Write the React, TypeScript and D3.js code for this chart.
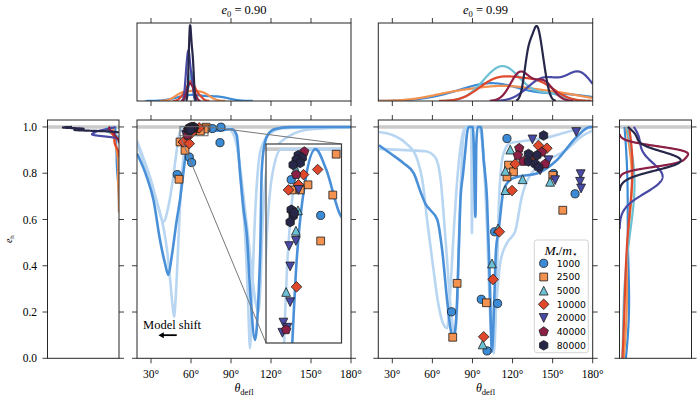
import React from 'react';
import * as d3 from 'd3';

type Pt = [number, number];

// ---------------- categories / labels ----------------
const massRatios = ['1000', '2500', '5000', '10000', '20000', '40000', '80000'];
const seriesColors = ['#3b8bd6', '#f39150', '#6cc0d3', '#e0482b', '#4949a6', '#8c1f46', '#27274a'];
const seriesMarkers = ['circle', 'square', 'triangleUp', 'diamond', 'triangleDown', 'pentagon', 'hexagon'];
const thetaTicks = [30, 60, 90, 120, 150, 180];
const thetaTickLabels = ['30°', '60°', '90°', '120°', '150°', '180°'];
const eTicks = [0, 0.2, 0.4, 0.6, 0.8, 1.0];
const eTickLabels = ['0.0', '0.2', '0.4', '0.6', '0.8', '1.0'];
const panelE0 = ['0.90', '0.99'];

// ---------------- scatter data, e0 = 0.90  [theta_defl (deg), e_h] ----------------
const e090_1000: Pt[] = [[66.96, 0.987], [58.75, 0.994], [76.0, 0.993], [82.5, 0.999], [81.75, 0.932], [58.7, 0.870], [60.5, 0.846], [49.7, 0.794]];
const e090_2500: Pt[] = [[71.27, 0.999], [70.32, 0.991], [66.96, 0.982], [63.43, 0.993], [61.27, 0.992], [58.95, 0.992], [51.0, 0.774], [55.5, 0.899], [51.75, 0.935]];
const e090_5000: Pt[] = [[60.07, 0.996], [60.63, 0.988], [60.07, 0.984], [57.35, 0.972]];
const e090_10000: Pt[] = [[66.12, 0.996], [62.2, 0.995], [58.0, 0.992], [60.8, 0.993], [60.23, 0.973], [54.2, 0.935], [58.7, 0.928]];
const e090_20000: Pt[] = [[60.8, 0.992], [58.19, 0.981], [60.07, 0.982], [58.47, 0.977], [58.47, 0.970], [56.6, 0.966], [56.31, 0.964], [57.71, 0.965]];
const e090_40000: Pt[] = [[62.39, 0.9995], [60.15, 0.995], [57.35, 0.9646], [59.03, 0.988]];
const e090_80000: Pt[] = [[60.71, 0.9988], [61.83, 0.9983], [60.15, 0.9979], [61.27, 0.9973], [59.3, 0.9969], [58.75, 0.9881], [59.3, 0.9869], [58.47, 0.9857], [59.6, 0.9875]];

// ---------------- scatter data, e0 = 0.99 ----------------
const e099_1000: Pt[] = [[115.8, 0.950], [150.6, 0.799], [166.8, 0.711], [106.6, 0.547], [74.3, 0.201], [96.6, 0.255], [108.8, 0.237], [100.9, 0.032]];
const e099_2500: Pt[] = [[117.0, 0.835], [120.7, 0.806], [115.8, 0.784], [157.6, 0.640], [150.1, 0.791], [78.5, 0.324], [75.2, 0.091], [100.4, 0.240]];
const e099_5000: Pt[] = [[118.3, 0.902], [114.6, 0.810], [127.5, 0.774], [114.6, 0.727], [148.1, 0.763], [109.1, 0.561], [104.6, 0.410], [97.6, 0.060]];
const e099_10000: Pt[] = [[139.4, 0.920], [145.7, 0.908], [122.0, 0.840], [134.5, 0.862], [119.6, 0.725], [110.1, 0.547], [105.4, 0.341], [98.4, 0.093]];
const e099_20000: Pt[] = [[134.9, 0.946], [167.7, 0.978], [171.0, 0.796], [170.5, 0.763], [171.3, 0.734], [146.9, 0.856], [151.9, 0.770], [140.7, 0.813]];
const e099_40000: Pt[] = [[125.0, 0.908], [124.0, 0.877], [128.2, 0.851], [141.9, 0.891], [144.4, 0.840]];
const e099_80000: Pt[] = [[143.2, 0.963], [131.9, 0.851], [136.9, 0.840], [139.4, 0.826], [138.2, 0.877], [131.9, 0.883]];

const e090Points = [e090_1000, e090_2500, e090_5000, e090_10000, e090_20000, e090_40000, e090_80000];
const e099Points = [e099_1000, e099_2500, e099_5000, e099_10000, e099_20000, e099_40000, e099_80000];

// ---------------- model curves (theta, e_h) ----------------
const e090Medium: Pt[] = [[19.5, 0.885], [26.8, 0.784], [31.9, 0.683], [36.75, 0.511], [40.5, 0.41], [43, 0.36], [45.5, 0.439], [49.3, 0.597], [51.75, 0.684], [55.5, 0.857], [57.5, 0.93], [60, 0.975], [62.5, 0.993], [65.5, 1.0], [68.5, 0.996], [72.5, 0.987], [78, 0.984], [86, 0.988], [91, 0.99], [94.3, 0.964], [96.75, 0.805], [99.5, 0.64], [101.8, 0.54], [104.8, 0.252], [108, 0.079], [110.5, 0.252], [112.1, 0.511], [113, 0.805], [115, 0.92], [118, 0.97], [123, 0.991], [134, 0.999], [180, 1.0]];
const e090Light1: Pt[] = [[19.5, 0.94], [24, 0.87], [29.25, 0.784], [35.5, 0.655], [39.2, 0.59], [43, 0.655], [46.7, 0.784], [49.3, 0.899], [51.2, 0.97], [53.5, 0.995], [56, 1.0], [88, 1.0], [93, 0.97], [96, 0.85], [98.5, 0.68], [100.5, 0.541], [102.75, 0.252], [104.25, 0.043], [105.75, 0.252], [107.25, 0.511], [109, 0.72], [111, 0.86], [114, 0.93], [120, 0.975], [130, 0.995], [180, 1.0]];
const e090Light2: Pt[] = [[19.5, 0.93], [25, 0.84], [30, 0.76], [35, 0.66], [39.2, 0.57], [42, 0.47], [44.5, 0.33], [46.3, 0.22], [47.3, 0.18], [48.5, 0.26], [50.5, 0.5], [52.5, 0.74], [54.5, 0.88], [56.3, 0.95], [57.5, 0.975], [59, 0.99], [61, 0.997], [64, 1.0], [85, 1.0], [90, 0.985], [95, 0.9], [99, 0.72], [103, 0.52], [106, 0.35], [108.5, 0.24], [110.5, 0.2], [112, 0.3], [113.5, 0.55], [115.5, 0.75], [118, 0.85], [125, 0.92], [135, 0.965], [150, 0.99], [180, 0.998]];

const e099Medium: Pt[] = [[20, 0.921], [28.7, 0.885], [38.7, 0.842], [46.1, 0.799], [51.1, 0.72], [55, 0.665], [58.6, 0.64], [63.6, 0.6], [67.3, 0.468], [71, 0.252], [73.5, 0.13], [75.5, 0.086], [77.2, 0.13], [78.5, 0.252], [79.7, 0.468], [81, 0.684], [83, 0.8], [84.7, 0.9], [86, 0.975], [87.2, 1.0], [90.2, 1.0], [90.9, 0.93], [92.2, 0.611], [92.9, 0.93], [93.9, 1.0], [96.4, 1.0], [98.4, 0.856], [100.9, 0.684], [102.6, 0.396], [104.6, 0.029], [106.3, 0.252], [107.6, 0.468], [109.6, 0.554], [113.3, 0.727], [118, 0.77], [123.3, 0.784], [138.2, 0.799], [153.1, 0.856], [168, 0.957], [178, 1.0], [180, 1.0]];
const e099Light1: Pt[] = [[20, 0.978], [30, 0.965], [40, 0.93], [48, 0.87], [53, 0.75], [56, 0.6], [60, 0.42], [64, 0.25], [68, 0.15], [71, 0.13], [73.5, 0.3], [76, 0.55], [79, 0.8], [82, 0.95], [85, 1.0], [89, 1.0], [89.6, 0.54], [90.3, 1.0], [95, 1.0], [98, 0.9], [101, 0.6], [104, 0.2], [106, 0.02], [108, 0.3], [110, 0.7], [113, 0.88], [118, 0.93], [130, 0.94], [150, 0.96], [165, 0.985], [180, 1.0]];
const e099Light2: Pt[] = [[20, 0.905], [40, 0.9], [55, 0.895], [62, 0.87], [66, 0.78], [70, 0.5], [74, 0.2], [77, 0.1], [79, 0.3], [81, 0.7], [83, 0.95], [85, 1.0], [95, 1.0], [98.5, 0.85], [101, 0.55], [103.5, 0.15], [105.5, 0.05], [108, 0.25], [111, 0.42], [116, 0.5], [122, 0.55], [127, 0.7], [132, 0.78], [145, 0.85], [160, 0.9], [172, 0.96], [180, 0.985]];

const e090Curves = [e090Light1, e090Light2, e090Medium];
const e099Curves = [e099Light1, e099Light2, e099Medium];
const curveKinds = ['light', 'light', 'medium'];

// inset zoom window (theta range, e range)
const insetTheta: Pt = [51.75, 72.75];
const insetE: Pt = [0.962, 1.001];
// annotation
const modelShiftText = { theta: 45.8, e: 0.127 };
const modelShiftArrow = { from: 49.3, to: 35.5, e: 0.1 };

// ---------------- styles ----------------
const SERIF = "'Liberation Serif', 'DejaVu Serif', serif";
const SANS = "'DejaVu Sans', sans-serif";
const SPINE = '#262626';
const MEDIUM_BLUE = '#4a90d8';
const LIGHT_BLUE = '#b8d6f1';
const GRAY_REF = '#cbcbcb';

// ---------------- helpers ----------------
function gaussKde(values: number[], lo: number, hi: number, weight: number): Pt[] {
  const n = values.length;
  const sd = d3.deviation(values) ?? 0.01;
  const bw = Math.max(sd * Math.pow(n, -0.2), 1e-6);
  const a = Math.max(lo, (d3.min(values) as number) - 3 * bw);
  const b = Math.min(hi, (d3.max(values) as number) + 3 * bw);
  const m = 400;
  const out: Pt[] = [];
  for (let i = 0; i <= m; i++) {
    const x = a + ((b - a) * i) / m;
    let s = 0;
    for (const v of values) {
      const z = (x - v) / bw;
      s += Math.exp(-0.5 * z * z);
    }
    out.push([x, (weight * s) / (n * bw * Math.sqrt(2 * Math.PI))]);
  }
  return out;
}

function polygonPath(k: number, r: number, rot: number): string {
  const pts = d3.range(k).map((i) => {
    const a = rot + (2 * Math.PI * i) / k;
    return [r * Math.cos(a), r * Math.sin(a)];
  });
  return 'M' + pts.map((p) => p[0].toFixed(2) + ',' + p[1].toFixed(2)).join('L') + 'Z';
}

function markerPath(kind: string): string {
  const t = 4.4;
  switch (kind) {
    case 'circle':
      return d3.symbol(d3.symbolCircle, Math.PI * 4.1 * 4.1)() as string;
    case 'square':
      return `M-3.9,-3.9H3.9V3.9H-3.9Z`;
    case 'diamond':
      return `M0,-5.3L5.3,0L0,5.3L-5.3,0Z`;
    case 'triangleUp':
      return `M0,${-t}L${t},${t}L${-t},${t}Z`;
    case 'triangleDown':
      return `M0,${t}L${t},${-t}L${-t},${-t}Z`;
    case 'pentagon':
      return polygonPath(5, 4.9, -Math.PI / 2);
    default:
      return polygonPath(6, 4.8, -Math.PI / 2);
  }
}

export default function App() {
  // geometry
  const topY: Pt = [101, 23];
  const mainY: Pt = [358.3, 120];
  const leftX: Pt = [137, 351];
  const rightX: Pt = [378.3, 592.7];
  const lmX: Pt = [47.5, 119];
  const rmX: Pt = [619.5, 691.5];
  const inset = { x0: 266, x1: 341.5, y0: 144, y1: 343 };

  const xL = d3.scaleLinear().domain([19.5, 180]).range(leftX);
  const xR = d3.scaleLinear().domain([19.5, 180]).range(rightX);
  const yE = d3.scaleLinear().domain([0, 1.03]).range(mainY);
  const xI = d3.scaleLinear().domain(insetTheta).range([inset.x0, inset.x1]);
  const yI = d3.scaleLinear().domain(insetE).range([inset.y1, inset.y0]);

  // KDEs
  const N090 = d3.sum(e090Points, (s) => s.length);
  const N099 = d3.sum(e099Points, (s) => s.length);
  const topL = e090Points.map((s) => gaussKde(s.map((p) => p[0]), 19.5, 180, s.length / N090));
  const topR = e099Points.map((s) => gaussKde(s.map((p) => p[0]), 19.5, 180, s.length / N099));
  const sideL = e090Points.map((s) => gaussKde(s.map((p) => p[1]), 0, 1.0, s.length / N090));
  const sideR = e099Points.map((s) => gaussKde(s.map((p) => p[1]), 0, 1.0, s.length / N099));

  const maxTopL = d3.max(topL.flat(), (d) => d[1]) as number;
  const maxTopR = d3.max(topR.flat(), (d) => d[1]) as number;
  const maxSideR = d3.max(sideR.flat(), (d) => d[1]) as number;

  const yTL = d3.scaleLinear().domain([0, maxTopL * 1.03]).range(topY);
  const yTR = d3.scaleLinear().domain([0, maxTopR * 1.04]).range(topY);
  const xSR = d3.scaleLinear().domain([0, maxSideR * 1.05]).range(rmX);
  const xSL = d3.scaleLinear().domain([0, 14]).range([lmX[1], lmX[0]]);

  const curveLine = (xs: d3.ScaleLinear<number, number>, ys: d3.ScaleLinear<number, number>) =>
    d3.line<Pt>().x((d) => xs(d[0])).y((d) => ys(d[1])).curve(d3.curveMonotoneX);
  const sideLine = (xs: d3.ScaleLinear<number, number>) =>
    d3.line<Pt>().x((d) => xs(d[1])).y((d) => yE(d[0])).curve(d3.curveLinear);

  const frame = (x: Pt, y: Pt) => (
    <rect x={x[0]} y={y[1]} width={x[1] - x[0]} height={y[0] - y[1]} fill="none" stroke={SPINE} strokeWidth={1} />
  );

  const xTicks = (xs: d3.ScaleLinear<number, number>, yEdge: number, dir: number, key: string) =>
    thetaTicks.map((t) => (
      <line key={key + t} x1={xs(t)} x2={xs(t)} y1={yEdge} y2={yEdge + dir * 5} stroke={SPINE} strokeWidth={0.9} />
    ));
  const yTicks = (xEdge: number, dir: number, key: string) =>
    eTicks.map((t) => (
      <line key={key + t} x1={xEdge} x2={xEdge + dir * 5} y1={yE(t)} y2={yE(t)} stroke={SPINE} strokeWidth={0.9} />
    ));

  const drawCurves = (curves: Pt[][], xs: d3.ScaleLinear<number, number>, ys: d3.ScaleLinear<number, number>) =>
    curves.map((c, i) => (
      <path
        key={'c' + i}
        d={curveLine(xs, ys)(c) as string}
        fill="none"
        stroke={curveKinds[i] === 'light' ? LIGHT_BLUE : MEDIUM_BLUE}
        strokeWidth={2.6}
        strokeLinejoin="round"
      />
    ));

  const drawPoints = (sets: Pt[][], xs: d3.ScaleLinear<number, number>, ys: d3.ScaleLinear<number, number>, k: string) =>
    sets.map((s, i) =>
      s.map((p, j) => (
        <path
          key={k + i + '_' + j}
          d={markerPath(seriesMarkers[i])}
          transform={`translate(${xs(p[0]).toFixed(2)},${ys(p[1]).toFixed(2)})`}
          fill={seriesColors[i]}
          stroke="#1c1c1c"
          strokeWidth={0.8}
        />
      ))
    );

  const kdeTop = (kdes: Pt[][], xs: d3.ScaleLinear<number, number>, ys: d3.ScaleLinear<number, number>, k: string) =>
    kdes.map((c, i) => (
      <path key={k + i} d={d3.line<Pt>().x((d) => xs(d[0])).y((d) => ys(d[1]))(c) as string} fill="none" stroke={seriesColors[i]} strokeWidth={2.2} strokeLinejoin="round" />
    ));
  const kdeSide = (kdes: Pt[][], xs: d3.ScaleLinear<number, number>, k: string) =>
    kdes.map((c, i) => (
      <path key={k + i} d={sideLine(xs)(c) as string} fill="none" stroke={seriesColors[i]} strokeWidth={2.2} strokeLinejoin="round" />
    ));

  const refLine = (x: Pt, k: string) => (
    <line key={k} x1={x[0]} x2={x[1]} y1={yE(1)} y2={yE(1)} stroke={GRAY_REF} strokeWidth={3.6} />
  );

  const thetaLabel = (cx: number) => (
    <text x={cx} y={392} textAnchor="middle" fontFamily={SERIF} fontSize={12}>
      <tspan fontStyle="italic">θ</tspan>
      <tspan fontSize={8.5} dy={2.5}>defl</tspan>
    </text>
  );
  const title = (cx: number, v: string) => (
    <text x={cx} y={14} textAnchor="middle" fontFamily={SERIF} fontSize={12.5}>
      <tspan fontStyle="italic">e</tspan>
      <tspan fontSize={8.5} dy={2.5}>0</tspan>
      <tspan dy={-2.5}>{' = ' + v}</tspan>
    </text>
  );

  const rectX0 = xL(insetTheta[0]);
  const rectX1 = xL(insetTheta[1]);
  const rectY0 = yE(insetE[1]);
  const rectY1 = yE(insetE[0]);

  const legX = 534.3, legY = 240, legW = 54, legH = 112.7;

  return (
    <div style={{ position: 'absolute', left: 0, top: 0 }}>
      <svg width={700} height={400} style={{ display: 'block', background: '#fff' }}>
        <defs>
          <clipPath id="cTL"><rect x={leftX[0]} y={topY[1]} width={leftX[1] - leftX[0]} height={topY[0] - topY[1]} /></clipPath>
          <clipPath id="cTR"><rect x={rightX[0]} y={topY[1]} width={rightX[1] - rightX[0]} height={topY[0] - topY[1]} /></clipPath>
          <clipPath id="cML"><rect x={leftX[0]} y={mainY[1]} width={leftX[1] - leftX[0]} height={mainY[0] - mainY[1]} /></clipPath>
          <clipPath id="cMR"><rect x={rightX[0]} y={mainY[1]} width={rightX[1] - rightX[0]} height={mainY[0] - mainY[1]} /></clipPath>
          <clipPath id="cLM"><rect x={lmX[0]} y={mainY[1]} width={lmX[1] - lmX[0]} height={mainY[0] - mainY[1]} /></clipPath>
          <clipPath id="cRM"><rect x={rmX[0]} y={mainY[1]} width={rmX[1] - rmX[0]} height={mainY[0] - mainY[1]} /></clipPath>
          <clipPath id="cIN"><rect x={inset.x0} y={inset.y0} width={inset.x1 - inset.x0} height={inset.y1 - inset.y0} /></clipPath>
        </defs>

        {/* titles */}
        {title((leftX[0] + leftX[1]) / 2, panelE0[0])}
        {title((rightX[0] + rightX[1]) / 2, panelE0[1])}

        {/* top KDE panels */}
        <g clipPath="url(#cTL)">{kdeTop(topL, xL, yTL, 'tl')}</g>
        <g clipPath="url(#cTR)">{kdeTop(topR, xR, yTR, 'tr')}</g>
        {frame(leftX, topY)}
        {frame(rightX, topY)}
        {xTicks(xL, topY[1], -1, 'tlt')}
        {xTicks(xL, topY[0], 1, 'tlb')}
        {xTicks(xR, topY[1], -1, 'trt')}
        {xTicks(xR, topY[0], 1, 'trb')}

        {/* left marginal */}
        <g clipPath="url(#cLM)">
          {refLine(lmX, 'rl')}
          {kdeSide(sideL, xSL, 'sl')}
        </g>
        {frame(lmX, mainY)}
        {yTicks(lmX[0], -1, 'lml')}
        {yTicks(lmX[1], 1, 'lmr')}
        {eTicks.map((t, i) => (
          <text key={'el' + t} x={37} y={yE(t)} dy="0.35em" textAnchor="end" fontFamily={SERIF} fontSize={11.5}>
            {eTickLabels[i]}
          </text>
        ))}
        <text transform={`translate(12,${(mainY[0] + mainY[1]) / 2}) rotate(-90)`} textAnchor="middle" fontFamily={SERIF} fontSize={10}>
          <tspan fontStyle="italic">e</tspan>
          <tspan fontSize={7} dy={2}>h</tspan>
        </text>

        {/* main left */}
        <g clipPath="url(#cML)">
          {refLine(leftX, 'rml')}
          {drawCurves(e090Curves, xL, yE)}
          {drawPoints(e090Points, xL, yE, 'pl')}
        </g>
        {frame(leftX, mainY)}
        {xTicks(xL, mainY[1], -1, 'mlt')}
        {xTicks(xL, mainY[0], 1, 'mlb')}
        {yTicks(leftX[0], -1, 'mll')}
        {yTicks(leftX[1], 1, 'mlr')}

        {/* inset indicator */}
        <rect x={rectX0} y={rectY0} width={rectX1 - rectX0} height={rectY1 - rectY0} fill="none" stroke="#666" strokeWidth={1} />
        <line x1={rectX1} y1={rectY0} x2={inset.x1} y2={inset.y0} stroke="#777" strokeWidth={1} />
        <line x1={rectX0} y1={rectY1} x2={inset.x0} y2={inset.y1} stroke="#777" strokeWidth={1} />

        {/* inset */}
        <rect x={inset.x0} y={inset.y0} width={inset.x1 - inset.x0} height={inset.y1 - inset.y0} fill="#fff" />
        <g clipPath="url(#cIN)">
          <line x1={inset.x0} x2={inset.x1} y1={yI(1)} y2={yI(1)} stroke={GRAY_REF} strokeWidth={3.6} />
          {drawCurves(e090Curves, xI, yI)}
          {drawPoints(e090Points, xI, yI, 'pi')}
        </g>
        <rect x={inset.x0} y={inset.y0} width={inset.x1 - inset.x0} height={inset.y1 - inset.y0} fill="none" stroke="#3a3a3a" strokeWidth={1.2} />

        {/* model shift annotation */}
        <text x={xL(modelShiftText.theta)} y={yE(modelShiftText.e)} textAnchor="middle" fontFamily={SERIF} fontSize={12.5}>
          Model shift
        </text>
        <line x1={xL(modelShiftArrow.from)} x2={xL(modelShiftArrow.to) + 4} y1={yE(modelShiftArrow.e)} y2={yE(modelShiftArrow.e)} stroke="#000" strokeWidth={1.8} />
        <path
          d={`M${xL(modelShiftArrow.to)},${yE(modelShiftArrow.e)}l5.5,-3l0,6Z`}
          fill="#000"
        />

        {/* main right */}
        <g clipPath="url(#cMR)">
          {refLine(rightX, 'rmr')}
          {drawCurves(e099Curves, xR, yE)}
          {drawPoints(e099Points, xR, yE, 'pr')}
        </g>
        {frame(rightX, mainY)}
        {xTicks(xR, mainY[1], -1, 'mrt')}
        {xTicks(xR, mainY[0], 1, 'mrb')}
        {yTicks(rightX[0], -1, 'mrl')}
        {yTicks(rightX[1], 1, 'mrr')}

        {/* x tick labels */}
        {thetaTicks.map((t, i) => (
          <text key={'xl' + t} x={xL(t)} y={377.5} textAnchor="middle" fontFamily={SERIF} fontSize={11.5}>
            {thetaTickLabels[i]}
          </text>
        ))}
        {thetaTicks.map((t, i) => (
          <text key={'xr' + t} x={xR(t)} y={377.5} textAnchor="middle" fontFamily={SERIF} fontSize={11.5}>
            {thetaTickLabels[i]}
          </text>
        ))}
        {thetaLabel((leftX[0] + leftX[1]) / 2)}
        {thetaLabel((rightX[0] + rightX[1]) / 2)}

        {/* right marginal */}
        <g clipPath="url(#cRM)">
          {refLine(rmX, 'rr')}
          {kdeSide(sideR, xSR, 'sr')}
        </g>
        {frame(rmX, mainY)}
        {yTicks(rmX[0], -1, 'rml')}
        {yTicks(rmX[1], 1, 'rmr')}

        {/* legend */}
        <rect x={legX} y={legY} width={legW} height={legH} rx={2.5} fill="#fff" fillOpacity={0.85} stroke="#cfcfcf" strokeWidth={0.9} />
        <text x={legX + legW / 2} y={legY + 14.5} textAnchor="middle" fontFamily={SERIF} fontSize={13.5}>
          <tspan fontStyle="italic">M</tspan>
          <tspan fontSize={8} dy={2.5}>•</tspan>
          <tspan dy={-2.5}>/</tspan>
          <tspan fontStyle="italic">m</tspan>
          <tspan fontSize={8.5} dy={2.5}>⋆</tspan>
        </text>
        {massRatios.map((m, i) => (
          <g key={'lg' + m} transform={`translate(${legX + 9.4},${legY + 23.3 + i * 13.67})`}>
            <path d={markerPath(seriesMarkers[i])} fill={seriesColors[i]} stroke="#1c1c1c" strokeWidth={0.8} />
            <text x={13} dy="0.35em" fontFamily={SANS} fontSize={9.2}>
              {m}
            </text>
          </g>
        ))}
      </svg>
    </div>
  );
}
